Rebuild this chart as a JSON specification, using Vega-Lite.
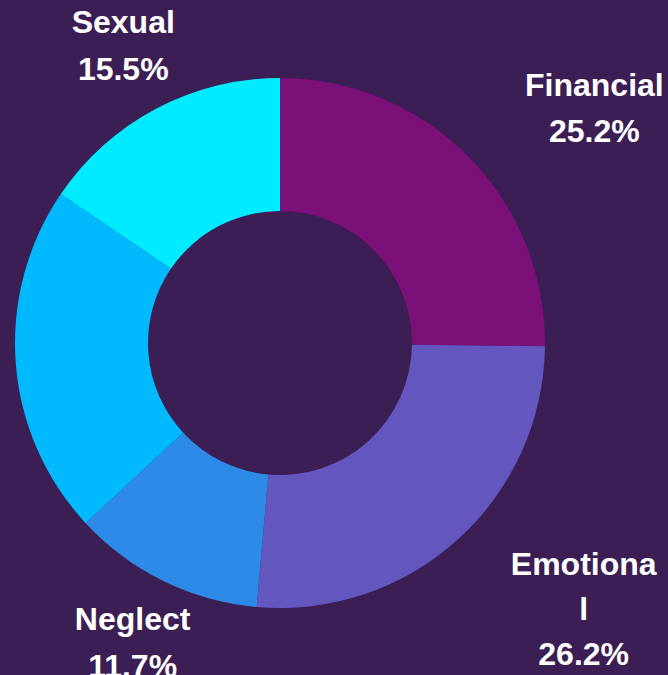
{
  "$schema": "https://vega.github.io/schema/vega-lite/v6.json",
  "autosize": "none",
  "width": 560,
  "height": 686,
  "padding": {"left": 0, "top": 0, "right": 108, "bottom": 0},
  "background": "#3b1e53",
  "view": {"stroke": null},
  "data": {
    "values": [
      {"category": "Financial", "value": 25.2, "rank": 1, "label": ["Financial", "25.2%"]},
      {"category": "Emotional", "value": 26.2, "rank": 2, "label": ["Emotiona", "l", "26.2%"]},
      {"category": "Neglect", "value": 11.7, "rank": 3, "label": ["Neglect", "11.7%"]},
      {"category": "Physical", "value": 21.4, "rank": 4, "label": ["Physical", "21.4%"]},
      {"category": "Sexual", "value": 15.5, "rank": 5, "label": ["Sexual", "15.5%"]}
    ]
  },
  "encoding": {
    "theta": {"field": "value", "type": "quantitative", "stack": true},
    "order": {"field": "rank", "type": "quantitative"}
  },
  "layer": [
    {
      "mark": {"type": "arc", "radius": 265, "radius2": 132},
      "encoding": {
        "color": {
          "field": "category",
          "type": "nominal",
          "legend": null,
          "scale": {
            "domain": ["Financial", "Emotional", "Neglect", "Physical", "Sexual"],
            "range": ["#7a1078", "#6458c0", "#2d8ae6", "#00b9ff", "#00ebff"]
          }
        }
      }
    },
    {
      "mark": {"type": "text", "radius": 335, "dy": -24, "font": "Liberation Sans", "fontWeight": "bold", "fontSize": 32, "lineHeight": 47, "align": "center", "baseline": "middle", "color": "white"},
      "encoding": {"text": {"condition": {"test": "datum.category === 'Sexual' || datum.category === 'Neglect'", "field": "label"}, "value": ""}}
    },
    {
      "mark": {"type": "text", "radius": 335, "dx": 76, "dy": -22, "font": "Liberation Sans", "fontWeight": "bold", "fontSize": 32, "lineHeight": 46, "align": "center", "baseline": "middle", "color": "white"},
      "encoding": {"text": {"condition": {"test": "datum.category === 'Financial'", "field": "label"}, "value": ""}}
    },
    {
      "mark": {"type": "text", "radius": 335, "dx": 79, "dy": -26, "font": "Liberation Sans", "fontWeight": "bold", "fontSize": 32, "lineHeight": 45, "align": "center", "baseline": "middle", "color": "white"},
      "encoding": {"text": {"condition": {"test": "datum.category === 'Emotional'", "field": "label"}, "value": ""}}
    }
  ]
}
